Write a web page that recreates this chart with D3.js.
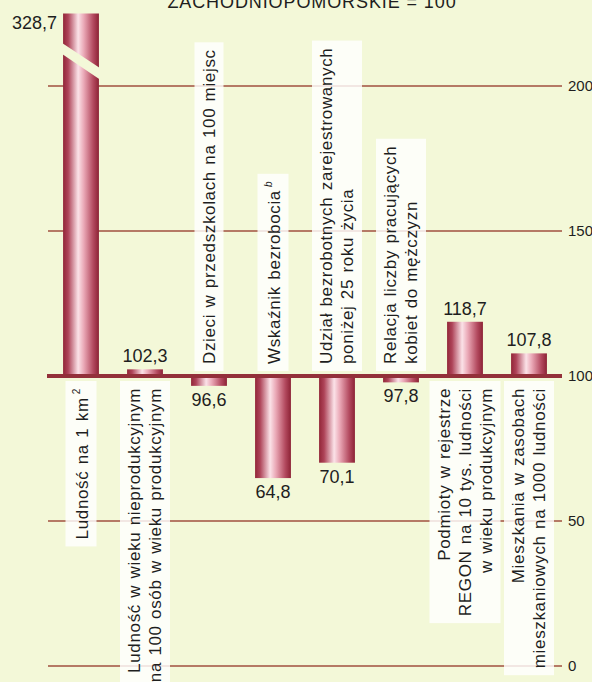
<!DOCTYPE html>
<html><head><meta charset="utf-8">
<script src="https://cdn.jsdelivr.net/npm/d3@7"></script>
<style>
html,body{margin:0;padding:0;background:#f3f8d8;}
svg{display:block;}
text{font-family:"Liberation Sans",Arial,Helvetica,sans-serif;fill:#1e1e1e;}
</style></head><body>
<svg id="c" width="592" height="682"></svg>
<script>
// ---- data ----
const title = "ZACHODNIOPOMORSKIE = 100";
const categories = [
  ["Ludność na 1 km^2"],
  ["Ludność w wieku nieprodukcyjnym", "na 100 osób w wieku produkcyjnym"],
  ["Dzieci w przedszkolach na 100 miejsc"],
  ["Wskaźnik bezrobocia^b"],
  ["Udział bezrobotnych zarejestrowanych", "poniżej 25 roku życia"],
  ["Relacja liczby pracujących", "kobiet do mężczyzn"],
  ["Podmioty w rejestrze", "REGON na 10 tys. ludności", "w wieku produkcyjnym"],
  ["Mieszkania w zasobach", "mieszkaniowych na 1000 ludności"]
];
const values = [328.7, 102.3, 96.6, 64.8, 70.1, 97.8, 118.7, 107.8];
const tickValues = [0, 50, 100, 150, 200];
const baseValue = 100;
const brokenCap = 225;            // value at which the broken (off-scale) bar is cut
const breakLeft = [211.0, 214.8]; // break stripe on the left edge of the broken bar
const breakRight = [202.2, 206.2];// break stripe on the right edge

// ---- layout ----
const W = 592, H = 682;
const svg = d3.select("#c");
const bg = "#f3f8d8";
svg.append("rect").attr("width", W).attr("height", H).attr("fill", bg);

const x = d3.scaleBand().domain(d3.range(values.length)).range([49, 561])
  .paddingInner(0.44).paddingOuter(0.22);
const y = d3.scaleLinear().domain([0, 200]).range([666, 86]);
const gridX0 = 48, gridX1 = 562;
const fmt = v => d3.format(".1f")(v).replace(".", ",");

// gradient
const defs = svg.append("defs");
const g = defs.append("linearGradient").attr("id", "barGrad").attr("x1", 0).attr("x2", 1).attr("y1", 0).attr("y2", 0);
[[0, "#922638"], [0.14, "#ae4459"], [0.42, "#fbe2e8"], [0.58, "#eaa8b6"], [0.84, "#b34a5f"], [1, "#8c2235"]]
  .forEach(([o, c]) => g.append("stop").attr("offset", o).attr("stop-color", c));

// grid lines
svg.append("g").selectAll("line").data(tickValues.filter(t => t !== baseValue)).join("line")
  .attr("x1", gridX0).attr("x2", gridX1)
  .attr("y1", d => y(d)).attr("y2", d => y(d))
  .attr("stroke", "#a0503f").attr("stroke-width", 1.3);

// bars
const y0 = y(baseValue);
const shown = v => Math.min(v, brokenCap);
svg.append("g").selectAll("rect").data(values).join("rect")
  .attr("x", (d, i) => x(i)).attr("width", x.bandwidth())
  .attr("y", d => Math.min(y(shown(d)), y0))
  .attr("height", d => Math.abs(y(shown(d)) - y0))
  .attr("fill", "url(#barGrad)");

// break stripe on off-scale bar(s)
values.forEach((v, i) => {
  if (v > brokenCap) {
    const xl = x(i) - 1, xr = x(i) + x.bandwidth() + 1;
    const pts = [[xl, y(breakLeft[1])], [xr, y(breakRight[1])], [xr, y(breakRight[0])], [xl, y(breakLeft[0])]];
    svg.append("polygon").attr("points", pts.map(p => p.join(",")).join(" ")).attr("fill", bg);
  }
});

// category labels (rotated)
const fs = 17, lh = 21;
const labG = svg.append("g");
categories.forEach((lines, i) => {
  const v = values[i];
  const above = v < baseValue;
  const cx = x(i) + x.bandwidth() / 2;
  const anchorY = above ? y0 - 12 : y0 + 12;
  const grp = labG.append("g");
  const inner = grp.append("g").attr("transform", "rotate(-90)");
  const rect = inner.append("rect");
  const txt = inner.append("g");
  lines.forEach((ln, k) => {
    const t = txt.append("text").attr("x", 0).attr("y", k * lh)
      .attr("text-anchor", above ? "start" : "end")
      .style("font-size", fs + "px").style("letter-spacing", "0.65px").style("word-spacing", "1px");
    const parts = ln.split("^");
    t.append("tspan").text(parts[0]);
    if (parts[1]) {
      t.append("tspan").attr("dx", 3).attr("dy", -8).style("font-size", "10px")
        .style("font-style", /[a-z]/.test(parts[1]) ? "italic" : "normal").text(parts[1]);
    }
  });
  const bb = txt.node().getBBox();
  const padL = 7, padA = 5;
  rect.attr("x", bb.x - padL).attr("width", bb.width + 2 * padL)
    .attr("y", bb.y - padA).attr("height", bb.height + 2 * padA)
    .attr("fill", "#ffffff").attr("fill-opacity", 0.82);
  const cLocal = bb.y + bb.height / 2; // local y centre -> screen x offset
  grp.attr("transform", `translate(${cx - cLocal},${anchorY})`);
});

// baseline 100
svg.append("line").attr("x1", gridX0 - 1).attr("x2", gridX1)
  .attr("y1", y0).attr("y2", y0).attr("stroke", "#93303a").attr("stroke-width", 4);

// value labels
svg.append("g").selectAll("text").data(values).join("text")
  .style("font-size", "18px")
  .attr("text-anchor", d => d > brokenCap ? "end" : "middle")
  .attr("x", (d, i) => d > brokenCap ? x(i) - 6 : x(i) + x.bandwidth() / 2)
  .attr("y", d => d > brokenCap ? y(brokenCap) + 15 : (d >= baseValue ? y(d) - 7 : y(d) + 20))
  .text(fmt);

// right axis labels
svg.append("g").selectAll("text").data(tickValues).join("text")
  .style("font-size", "15px").attr("x", gridX1 + 6).attr("y", d => y(d)).attr("dy", "0.35em")
  .text(d => d);

// title
svg.append("text").attr("x", 312).attr("y", 8).attr("text-anchor", "middle")
  .style("font-size", "18px").style("letter-spacing", "0.9px").text(title);
</script>
</body></html>
